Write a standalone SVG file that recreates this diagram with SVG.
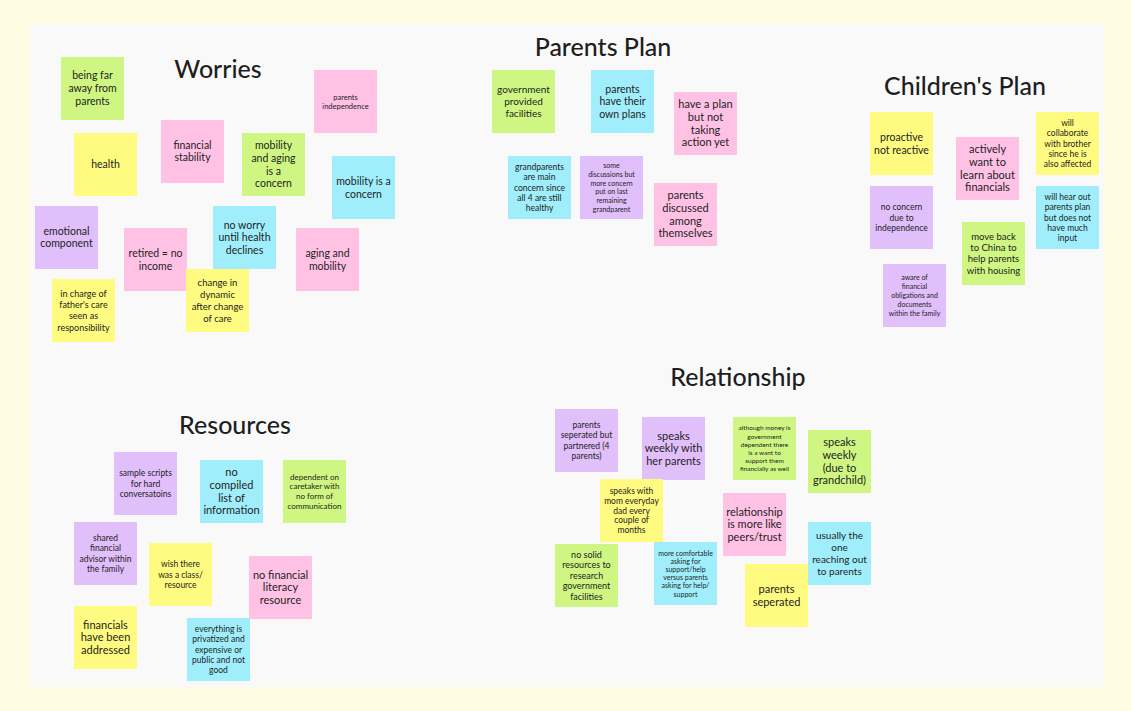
<svg xmlns="http://www.w3.org/2000/svg" width="1131" height="711" viewBox="0 0 1131 711">
<style>
.bg{fill:#FFFAE2}
.panel{fill:#F9F9F9}
.n{stroke:none}
.g{fill:#CFF682}
.y{fill:#FFFB80}
.p{fill:#FFC2E4}
.b{fill:#A0EEFC}
.u{fill:#E0BFFA}
text{font-family:Lato,"Liberation Sans",Arial,sans-serif;fill:#1E1E1E;text-anchor:middle}
.h{font-size:25px;font-weight:500}
</style>
<rect class="bg" x="0" y="0" width="1131" height="711"/>
<rect class="panel" x="30" y="24" width="1074" height="663"/>

<g id="titles">
<text class="h" x="218" y="78">Worries</text>
<text class="h" x="603" y="56">Parents Plan</text>
<text class="h" x="965" y="95">Children's Plan</text>
<text class="h" x="235" y="434">Resources</text>
<text class="h" x="738" y="386">Relationship</text>
</g>

<!-- Worries -->
<g id="w1"><rect class="n g" x="61" y="57" width="63" height="63"/><text font-size="10.5" x="92.5" y="79.2">being far<tspan x="92.5" dy="13">away from</tspan><tspan x="92.5" dy="13">parents</tspan></text></g>
<g id="w2"><rect class="n y" x="74" y="133" width="63" height="63"/><text font-size="10.5" x="105.5" y="168.2">health</text></g>
<g id="w3"><rect class="n p" x="161" y="120" width="63" height="63"/><text font-size="10.5" x="192.5" y="148.9">financial<tspan x="192.5" dy="12.5">stability</tspan></text></g>
<g id="w4"><rect class="n g" x="242" y="133" width="63" height="63"/><text font-size="10.5" x="273.5" y="149.1">mobility<tspan x="273.5" dy="12.7">and aging</tspan><tspan x="273.5" dy="12.7">is a</tspan><tspan x="273.5" dy="12.7">concern</tspan></text></g>
<g id="w5"><rect class="n p" x="314" y="70" width="63" height="63"/><text font-size="7.5" x="345.5" y="99.5">parents<tspan x="345.5" dy="9.3">independence</tspan></text></g>
<g id="w6"><rect class="n b" x="332" y="156" width="63" height="63"/><text font-size="10.5" x="363.5" y="184.8">mobility is a<tspan x="363.5" dy="12.7">concern</tspan></text></g>
<g id="w7"><rect class="n u" x="35" y="206" width="63" height="63"/><text font-size="10.5" x="66.5" y="235.2">emotional<tspan x="66.5" dy="12">component</tspan></text></g>
<g id="w8"><rect class="n p" x="124" y="228" width="63" height="63"/><text font-size="10.5" x="155.5" y="256.7">retired = no<tspan x="155.5" dy="13">income</tspan></text></g>
<g id="w9"><rect class="n b" x="213" y="206" width="63" height="63"/><text font-size="10.5" x="244.5" y="228.5">no worry<tspan x="244.5" dy="12.7">until health</tspan><tspan x="244.5" dy="12.7">declines</tspan></text></g>
<g id="w10"><rect class="n p" x="296" y="228" width="63" height="63"/><text font-size="10.5" x="327.5" y="256.8">aging and<tspan x="327.5" dy="12.7">mobility</tspan></text></g>
<g id="w11"><rect class="n y" x="52" y="279" width="63" height="63"/><text font-size="9" x="83.5" y="296.7">in charge of<tspan x="83.5" dy="11.3">father's care</tspan><tspan x="83.5" dy="11.3">seen as</tspan><tspan x="83.5" dy="11.3">responsibility</tspan></text></g>
<g id="w12"><rect class="n y" x="186" y="269" width="63" height="63"/><text font-size="9.5" x="217.5" y="285.8">change in<tspan x="217.5" dy="12">dynamic</tspan><tspan x="217.5" dy="12">after change</tspan><tspan x="217.5" dy="12">of care</tspan></text></g>

<!-- Parents Plan -->
<g id="pp1"><rect class="n g" x="492" y="70" width="63" height="63"/><text font-size="10" x="523.5" y="93.3">government<tspan x="523.5" dy="11.7">provided</tspan><tspan x="523.5" dy="11.7">facilities</tspan></text></g>
<g id="pp2"><rect class="n b" x="591" y="70" width="63" height="63"/><text font-size="10.5" x="622.5" y="92.9">parents<tspan x="622.5" dy="12.3">have their</tspan><tspan x="622.5" dy="12.3">own plans</tspan></text></g>
<g id="pp3"><rect class="n p" x="674" y="92" width="63" height="63"/><text font-size="11" x="705.5" y="108.3">have a plan<tspan x="705.5" dy="12.7">but not</tspan><tspan x="705.5" dy="12.7">taking</tspan><tspan x="705.5" dy="12.7">action yet</tspan></text></g>
<g id="pp4"><rect class="n b" x="508" y="156" width="63" height="63"/><text font-size="8.5" x="539.5" y="169.9">grandparents<tspan x="539.5" dy="10.3">are main</tspan><tspan x="539.5" dy="10.3">concern since</tspan><tspan x="539.5" dy="10.3">all 4 are still</tspan><tspan x="539.5" dy="10.3">healthy</tspan></text></g>
<g id="pp5"><rect class="n u" x="580" y="156" width="63" height="63"/><text font-size="7" x="611.5" y="168">some<tspan x="611.5" dy="8.8">discussions but</tspan><tspan x="611.5" dy="8.8">more concern</tspan><tspan x="611.5" dy="8.8">put on last</tspan><tspan x="611.5" dy="8.8">remaining</tspan><tspan x="611.5" dy="8.8">grandparent</tspan></text></g>
<g id="pp6"><rect class="n p" x="654" y="183" width="63" height="63"/><text font-size="11" x="685.5" y="199.3">parents<tspan x="685.5" dy="12.7">discussed</tspan><tspan x="685.5" dy="12.7">among</tspan><tspan x="685.5" dy="12.7">themselves</tspan></text></g>

<!-- Children's Plan -->
<g id="cp1"><rect class="n y" x="870" y="112" width="63" height="63"/><text font-size="10.5" x="901.5" y="140.8">proactive<tspan x="901.5" dy="12.7">not reactive</tspan></text></g>
<g id="cp2"><rect class="n p" x="956" y="137" width="63" height="63"/><text font-size="11" x="987.5" y="153.3">actively<tspan x="987.5" dy="12.7">want to</tspan><tspan x="987.5" dy="12.7">learn about</tspan><tspan x="987.5" dy="12.7">financials</tspan></text></g>
<g id="cp3"><rect class="n y" x="1036" y="112" width="63" height="63"/><text font-size="8.5" x="1067.5" y="125.7">will<tspan x="1067.5" dy="10.4">collaborate</tspan><tspan x="1067.5" dy="10.4">with brother</tspan><tspan x="1067.5" dy="10.4">since he is</tspan><tspan x="1067.5" dy="10.4">also affected</tspan></text></g>
<g id="cp4"><rect class="n u" x="870" y="186" width="63" height="63"/><text font-size="8.5" x="901.5" y="210.2">no concern<tspan x="901.5" dy="10.3">due to</tspan><tspan x="901.5" dy="10.3">independence</tspan></text></g>
<g id="cp5"><rect class="n b" x="1036" y="186" width="63" height="63"/><text font-size="8.5" x="1067.5" y="199.7">will hear out<tspan x="1067.5" dy="10.4">parents plan</tspan><tspan x="1067.5" dy="10.4">but does not</tspan><tspan x="1067.5" dy="10.4">have much</tspan><tspan x="1067.5" dy="10.4">input</tspan></text></g>
<g id="cp6"><rect class="n g" x="962" y="222" width="63" height="63"/><text font-size="9.5" x="993.5" y="240">move back<tspan x="993.5" dy="11.2">to China to</tspan><tspan x="993.5" dy="11.2">help parents</tspan><tspan x="993.5" dy="11.2">with housing</tspan></text></g>
<g id="cp7"><rect class="n u" x="883" y="264" width="63" height="63"/><text font-size="7" x="914.5" y="280">aware of<tspan x="914.5" dy="9">financial</tspan><tspan x="914.5" dy="9">obligations and</tspan><tspan x="914.5" dy="9">documents</tspan><tspan x="914.5" dy="9">within the family</tspan></text></g>

<!-- Resources -->
<g id="r1"><rect class="n u" x="114" y="452" width="63" height="63"/><text font-size="8.5" x="145.5" y="476.2">sample scripts<tspan x="145.5" dy="10.3">for hard</tspan><tspan x="145.5" dy="10.3">conversatoins</tspan></text></g>
<g id="r2"><rect class="n b" x="200" y="460" width="63" height="63"/><text font-size="11" x="231.5" y="476.3">no<tspan x="231.5" dy="12.7">compiled</tspan><tspan x="231.5" dy="12.7">list of</tspan><tspan x="231.5" dy="12.7">information</tspan></text></g>
<g id="r3"><rect class="n g" x="283" y="460" width="63" height="63"/><text font-size="8" x="314.5" y="479.6">dependent on<tspan x="314.5" dy="9.8">caretaker with</tspan><tspan x="314.5" dy="9.8">no form of</tspan><tspan x="314.5" dy="9.8">communication</tspan></text></g>
<g id="r4"><rect class="n u" x="74" y="522" width="63" height="63"/><text font-size="8.5" x="105.5" y="540.7">shared<tspan x="105.5" dy="10.5">financial</tspan><tspan x="105.5" dy="10.5">advisor within</tspan><tspan x="105.5" dy="10.5">the family</tspan></text></g>
<g id="r5"><rect class="n y" x="149" y="543" width="63" height="63"/><text font-size="8.5" x="180.5" y="566.8">wish there<tspan x="180.5" dy="10.7">was a class/</tspan><tspan x="180.5" dy="10.7">resource</tspan></text></g>
<g id="r6"><rect class="n p" x="249" y="556" width="63" height="63"/><text font-size="11" x="280.5" y="578.7">no financial<tspan x="280.5" dy="12.7">literacy</tspan><tspan x="280.5" dy="12.7">resource</tspan></text></g>
<g id="r7"><rect class="n y" x="74" y="606" width="63" height="63"/><text font-size="11" x="105.5" y="628.7">financials<tspan x="105.5" dy="12.7">have been</tspan><tspan x="105.5" dy="12.7">addressed</tspan></text></g>
<g id="r8"><rect class="n b" x="187" y="618" width="63" height="63"/><text font-size="8.5" x="218.5" y="631.9">everything is<tspan x="218.5" dy="10.3">privatized and</tspan><tspan x="218.5" dy="10.3">expensive or</tspan><tspan x="218.5" dy="10.3">public and not</tspan><tspan x="218.5" dy="10.3">good</tspan></text></g>

<!-- Relationship -->
<g id="rl1"><rect class="n u" x="555" y="409" width="63" height="63"/><text font-size="8.5" x="586.5" y="427.7">parents<tspan x="586.5" dy="10.5">seperated but</tspan><tspan x="586.5" dy="10.5">partnered (4</tspan><tspan x="586.5" dy="10.5">parents)</tspan></text></g>
<g id="rl2"><rect class="n u" x="642" y="417" width="63" height="63"/><text font-size="11" x="673.5" y="439.7">speaks<tspan x="673.5" dy="12.7">weekly with</tspan><tspan x="673.5" dy="12.7">her parents</tspan></text></g>
<g id="rl3"><rect class="n g" x="733" y="417" width="63" height="63"/><text font-size="6.5" x="764.5" y="430.3">although money is<tspan x="764.5" dy="8.2">government</tspan><tspan x="764.5" dy="8.2">dependent there</tspan><tspan x="764.5" dy="8.2">is a want to</tspan><tspan x="764.5" dy="8.2">support them</tspan><tspan x="764.5" dy="8.2">financially as well</tspan></text></g>
<g id="rl4"><rect class="n g" x="808" y="430" width="63" height="63"/><text font-size="11" x="839.5" y="446.3">speaks<tspan x="839.5" dy="12.7">weekly</tspan><tspan x="839.5" dy="12.7">(due to</tspan><tspan x="839.5" dy="12.7">grandchild)</tspan></text></g>
<g id="rl5"><rect class="n y" x="600" y="479" width="63" height="63"/><text font-size="8.5" x="631.5" y="494.1">speaks with<tspan x="631.5" dy="9.7">mom everyday</tspan><tspan x="631.5" dy="9.7">dad every</tspan><tspan x="631.5" dy="9.7">couple of</tspan><tspan x="631.5" dy="9.7">months</tspan></text></g>
<g id="rl6"><rect class="n p" x="723" y="493" width="63" height="63"/><text font-size="11" x="754.5" y="515.7">relationship<tspan x="754.5" dy="12.7">is more like</tspan><tspan x="754.5" dy="12.7">peers/trust</tspan></text></g>
<g id="rl7"><rect class="n b" x="808" y="522" width="63" height="63"/><text font-size="10" x="839.5" y="539.2">usually the<tspan x="839.5" dy="11.9">one</tspan><tspan x="839.5" dy="11.9">reaching out</tspan><tspan x="839.5" dy="11.9">to parents</tspan></text></g>
<g id="rl8"><rect class="n g" x="555" y="544" width="63" height="63"/><text font-size="9" x="586.5" y="557.7">no solid<tspan x="586.5" dy="10.5">resources to</tspan><tspan x="586.5" dy="10.5">research</tspan><tspan x="586.5" dy="10.5">government</tspan><tspan x="586.5" dy="10.5">facilities</tspan></text></g>
<g id="rl9"><rect class="n b" x="654" y="542" width="63" height="63"/><text font-size="7" x="685.5" y="555.5">more comfortable<tspan x="685.5" dy="8.2">asking for</tspan><tspan x="685.5" dy="8.2">support/help</tspan><tspan x="685.5" dy="8.2">versus parents</tspan><tspan x="685.5" dy="8.2">asking for help/</tspan><tspan x="685.5" dy="8.2">support</tspan></text></g>
<g id="rl10"><rect class="n y" x="745" y="564" width="63" height="63"/><text font-size="11" x="776.5" y="593">parents<tspan x="776.5" dy="12.7">seperated</tspan></text></g>
</svg>
